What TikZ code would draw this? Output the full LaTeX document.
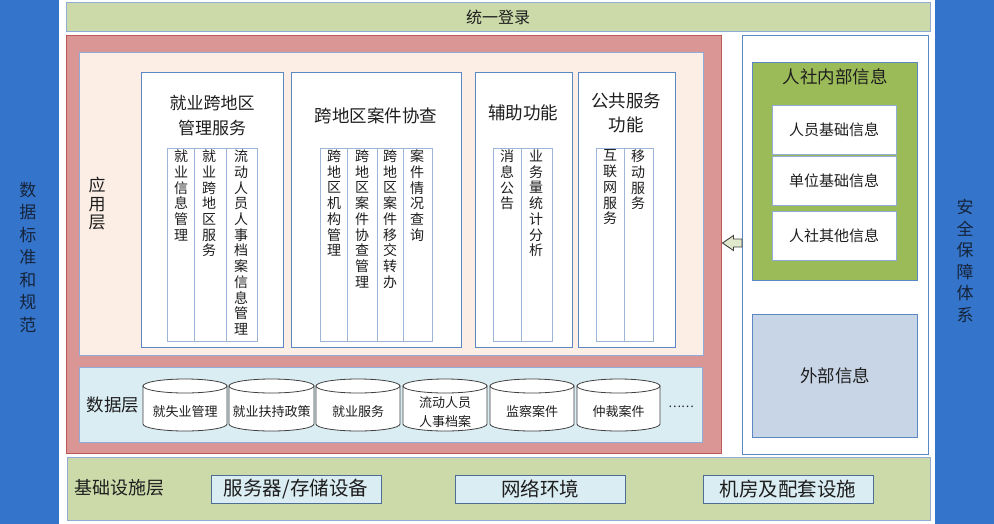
\documentclass[tikz,border=0pt]{standalone}
\usepackage{fontspec}
\setmainfont{Noto Sans CJK SC}
\usetikzlibrary{calc}
\definecolor{barblue}{HTML}{3474CA}
\definecolor{bartext}{HTML}{16243A}
\definecolor{lgreen}{HTML}{CCDAAA}
\definecolor{edgeblue}{HTML}{8EACD6}
\definecolor{modblue}{HTML}{5B87C5}
\definecolor{subblue}{HTML}{9DB6D8}
\definecolor{redfill}{HTML}{D99694}
\definecolor{rededge}{HTML}{BE5A56}
\definecolor{peach}{HTML}{FCEEE5}
\definecolor{aqua}{HTML}{DAEDF3}
\definecolor{olive}{HTML}{9BBB59}
\definecolor{steel}{HTML}{C8D5E6}
\definecolor{darkedge}{HTML}{4F6C94}
\definecolor{txt}{HTML}{1E1E1E}
\tikzset{
  box/.style={rectangle, draw=#1, line width=1pt, inner sep=0pt, outer sep=0pt, anchor=north west},
  box/.default=edgeblue,
  lbl/.style={inner sep=0pt, outer sep=0pt, text=txt, align=center},
  vlbl/.style={lbl, anchor=north, font=\fontsize{14}{15.7}\selectfont},
  cyl/.style={draw=black!75, fill=white, line width=0.8pt},
  divl/.style={draw=subblue, line width=0.8pt},
}
\begin{document}
\begin{tikzpicture}[x=1pt,y=-1pt]
\useasboundingbox (0,0) rectangle (994,523);
% side bars
\node[box=barblue, fill=barblue, minimum width=58, minimum height=523] (lbar) at (0,0) {};
\node[box=barblue, fill=barblue, minimum width=59, minimum height=523] (rbar) at (935,0) {};
\node[lbl, text=bartext, font=\fontsize{17}{22.5}\selectfont] (ltxt) at (28,257) {数\\据\\标\\准\\和\\规\\范};
\node[lbl, text=bartext, font=\fontsize{17}{21.6}\selectfont] (rtxt) at (965,261) {安\\全\\保\\障\\体\\系};
% top login bar
\node[box, fill=lgreen, minimum width=864, minimum height=29] (login) at (66,2) {};
\node[lbl, font=\fontsize{16}{18}\selectfont] (logintxt) at (498,17) {统一登录};
% red outer
\node[box=rededge, fill=redfill, minimum width=655, minimum height=418] (red) at (66,35) {};
% application layer
\node[box, fill=peach, minimum width=624, minimum height=303] (app) at (79,52) {};
\node[lbl, font=\fontsize{17}{18.5}\selectfont] (apptxt) at (97,204) {应\\用\\层};
% module 1
\node[box=modblue, fill=white, minimum width=142, minimum height=275] (m1) at (141,72) {};
\node[lbl, font=\fontsize{17}{25}\selectfont] (m1t) at (212,116) {就业跨地区\\管理服务};
\node[box=subblue, minimum width=90, minimum height=193] (s1) at (167,148) {};
\draw[divl] (194,148) -- (194,341);
\draw[divl] (226,148) -- (226,341);
\node[vlbl] (s1a) at (181,150) {就\\业\\信\\息\\管\\理};
\node[vlbl] (s1b) at (209,150) {就\\业\\跨\\地\\区\\服\\务};
\node[vlbl] (s1c) at (241,150) {流\\动\\人\\员\\人\\事\\档\\案\\信\\息\\管\\理};
% module 2
\node[box=modblue, fill=white, minimum width=170, minimum height=275] (m2) at (291,72) {};
\node[lbl, font=\fontsize{17.5}{20}\selectfont] (m2t) at (376,116) {跨地区案件协查};
\node[box=subblue, minimum width=112, minimum height=193] (s2) at (320,148) {};
\draw[divl] (347,148) -- (347,341);
\draw[divl] (377,148) -- (377,341);
\draw[divl] (403,148) -- (403,341);
\node[vlbl] (s2a) at (334,150) {跨\\地\\区\\机\\构\\管\\理};
\node[vlbl] (s2b) at (362,150) {跨\\地\\区\\案\\件\\协\\查\\管\\理};
\node[vlbl] (s2c) at (390,150) {跨\\地\\区\\案\\件\\移\\交\\转\\办};
\node[vlbl] (s2d) at (417,150) {案\\件\\情\\况\\查\\询};
% module 3
\node[box=modblue, fill=white, minimum width=97, minimum height=275] (m3) at (475,72) {};
\node[lbl, font=\fontsize{17.5}{20}\selectfont] (m3t) at (523,113) {辅助功能};
\node[box=subblue, minimum width=59, minimum height=193] (s3) at (493,148) {};
\draw[divl] (521,148) -- (521,341);
\node[vlbl] (s3a) at (507,150) {消\\息\\公\\告};
\node[vlbl] (s3b) at (536,150) {业\\务\\量\\统\\计\\分\\析};
% module 4
\node[box=modblue, fill=white, minimum width=97, minimum height=275] (m4) at (578,72) {};
\node[lbl, font=\fontsize{17.5}{24}\selectfont] (m4t) at (626,113) {公共服务\\功能};
\node[box=subblue, minimum width=57, minimum height=193] (s4) at (596,148) {};
\draw[divl] (624,148) -- (624,341);
\node[vlbl] (s4a) at (610,150) {互\\联\\网\\服\\务};
\node[vlbl] (s4b) at (638,150) {移\\动\\服\\务};
% data layer
\node[box, fill=aqua, minimum width=623, minimum height=75] (data) at (79,367) {};
\node[lbl, font=\fontsize{17.5}{20}\selectfont] (datatxt) at (113,405) {数据层};
\foreach \n/\xa/\xb/\t in {c1/143/227/就失业管理, c2/229/314/就业扶持政策, c3/316/400/就业服务, c4/403/487/{流动人员\\人事档案}, c5/490/574/监察案件, c6/577/660/仲裁案件}{
  \pgfmathsetmacro\cx{(\xa+\xb)/2}
  \pgfmathsetmacro\rx{(\xb-\xa)/2}
  \node[inner sep=0pt, outer sep=0pt, minimum width=\xb-\xa, minimum height=52, anchor=north west] (\n) at (\xa,379) {};
  \filldraw[cyl] ([yshift=-7pt]\n.north west) -- ([yshift=7pt]\n.south west)
     arc[start angle=180, end angle=360, x radius=\rx pt, y radius=7pt]
     -- ([yshift=-7pt]\n.north east) -- cycle;
  \filldraw[cyl] ([yshift=-7pt]\n.north) ellipse[x radius=\rx pt, y radius=7pt];
  \node[lbl, font=\fontsize{13}{19}\selectfont] (\n t) at (\cx,412) {\t};
}
\node[lbl, font=\fontsize{12}{14}\selectfont] (dots) at (681,407) {……};
% right panel
\node[box=modblue, fill=white, minimum width=186, minimum height=419] (rp) at (742,35) {};
\node[box=modblue, fill=olive, minimum width=165, minimum height=218] (inner) at (752.5,62) {};
\node[lbl, font=\fontsize{17.5}{20}\selectfont] (innert) at (835,77) {人社内部信息};
\node[box, fill=white, minimum width=124, minimum height=49] (i1) at (772,105) {};
\node[lbl, font=\fontsize{15}{17}\selectfont] (i1t) at (i1.center) {人员基础信息};
\node[box, fill=white, minimum width=124, minimum height=49] (i2) at (772,156) {};
\node[lbl, font=\fontsize{15}{17}\selectfont] (i2t) at (i2.center) {单位基础信息};
\node[box, fill=white, minimum width=124, minimum height=49] (i3) at (772,211) {};
\node[lbl, font=\fontsize{15}{17}\selectfont] (i3t) at (i3.center) {人社其他信息};
\node[box=modblue, fill=steel, minimum width=165, minimum height=123] (ext) at (752.5,314) {};
\node[lbl, font=\fontsize{17.5}{20}\selectfont] (extt) at (ext.center) {外部信息};
% hollow arrow
\coordinate (atip) at (722.5,243);
\filldraw[fill=lgreen!60, draw=black!75, line width=0.9pt]
  (atip) -- ++(11,-7.5) -- ++(0,3.5) -- (rp.west |- 0,239) -- (rp.west |- 0,247) -- (733.5,247) -- ++(0,3.5) -- cycle;
% base layer
\node[box, fill=lgreen, minimum width=863, minimum height=63] (base) at (67,457) {};
\node[lbl, font=\fontsize{18}{20}\selectfont] (basetxt) at (119,488) {基础设施层};
\node[box=darkedge, fill=aqua, minimum width=170, minimum height=28] (b1) at (211,475) {};
\node[lbl, font=\fontsize{19.5}{22}\selectfont] (b1t) at (b1.center) {服务器/存储设备};
\node[box=darkedge, fill=aqua, minimum width=170, minimum height=28] (b2) at (455,475) {};
\node[lbl, font=\fontsize{19.5}{22}\selectfont] (b2t) at (b2.center) {网络环境};
\node[box=darkedge, fill=aqua, minimum width=170, minimum height=28] (b3) at (703,475) {};
\node[lbl, font=\fontsize{19.5}{22}\selectfont] (b3t) at (b3.center) {机房及配套设施};
\end{tikzpicture}
\end{document}
